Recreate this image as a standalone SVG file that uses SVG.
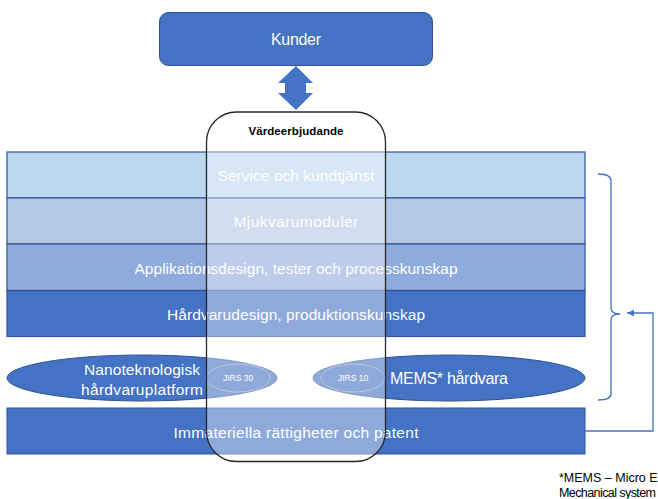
<svg xmlns="http://www.w3.org/2000/svg" width="658" height="499" viewBox="0 0 658 499">
<defs>
<style>
.lbl{font-family:"Liberation Sans",Arial,sans-serif;fill:#ffffff;text-anchor:middle;dominant-baseline:central}
.layer{stroke:#2F5597;stroke-width:1.2}
.ell{fill:#4472C4;stroke:#2F528F;stroke-width:1}
.jirs{fill:#4472C4;stroke:#8EA2C8;stroke-width:1}
.conn{fill:none;stroke:#4472C4;stroke-width:1.3}
.note{font-family:"Liberation Sans",Arial,sans-serif;font-size:12.5px;fill:#000000;dominant-baseline:central}
</style>
<marker id="ah" markerWidth="8" markerHeight="8" refX="7" refY="4" orient="auto" markerUnits="userSpaceOnUse">
<path d="M0,0.8 L7,4 L0,7.2 Z" fill="#4472C4"/>
</marker>
</defs>
<rect width="658" height="499" fill="#ffffff"/>

<g id="kunder">
<rect x="159.5" y="12.5" width="273" height="53" rx="9" fill="#4472C4" stroke="#2F528F" stroke-width="1"/>
<text class="lbl" x="296" y="39" font-size="16" textLength="50">Kunder</text>
</g>

<g id="dubbelpil">
<polygon points="296,66 313,83 306,83 306,93 313,93 296,110 278,93 285,93 285,83 278,83" fill="#4472C4"/>
</g>

<g id="service">
<rect class="layer" x="7" y="152" width="578" height="46" fill="#BDD7EE"/>
<text class="lbl" x="296" y="175.5" font-size="15.5" textLength="157">Service och kundtjänst</text>
</g>
<g id="mjukvara">
<rect class="layer" x="7" y="198" width="578" height="46" fill="#B4C7E7"/>
<text class="lbl" x="296" y="221.5" font-size="15.5" textLength="125">Mjukvarumoduler</text>
</g>
<g id="applikation">
<rect class="layer" x="7" y="244" width="578" height="46.5" fill="#8FAADC"/>
<text class="lbl" x="296" y="268" font-size="15.5" textLength="323">Applikationsdesign, tester och processkunskap</text>
</g>
<g id="hardvarudesign">
<rect class="layer" x="7" y="290.5" width="578" height="46" fill="#4472C4"/>
<text class="lbl" x="296" y="314" font-size="15.5" textLength="258">Hårdvarudesign, produktionskunskap</text>
</g>

<g id="nanoteknologisk">
<ellipse class="ell" cx="142" cy="378" rx="135" ry="23"/>
<text class="lbl" x="142" y="369" font-size="15.5" textLength="116">Nanoteknologisk</text>
<text class="lbl" x="142" y="389" font-size="15.5" textLength="122">hårdvaruplatform</text>
</g>
<g id="jirs30">
<ellipse class="jirs" cx="238" cy="378" rx="32" ry="14"/>
<text class="lbl" x="238" y="378" font-size="8.5">JIRS 30</text>
</g>
<g id="mems">
<ellipse class="ell" cx="449" cy="378" rx="136" ry="23"/>
<text class="lbl" x="449" y="378" font-size="16" textLength="118">MEMS* hårdvara</text>
</g>
<g id="jirs10">
<ellipse class="jirs" cx="353" cy="378" rx="32" ry="14"/>
<text class="lbl" x="353" y="378" font-size="8.5">JIRS 10</text>
</g>

<g id="immateriella">
<rect x="7" y="408" width="578" height="46" fill="#4472C4" stroke="#2F528F" stroke-width="1"/>
<text class="lbl" x="296" y="432.5" font-size="15.5" textLength="245">Immateriella rättigheter och patent</text>
</g>

<g id="vardeerbjudande">
<rect x="206.5" y="112" width="179" height="349.5" rx="30" fill="#ffffff" fill-opacity="0.4" stroke="#262626" stroke-width="1.3"/>
<text x="296" y="131" font-family="Liberation Sans,Arial,sans-serif" font-size="11.5" font-weight="bold" fill="#000000" text-anchor="middle" dominant-baseline="central" textLength="95">Värdeerbjudande</text>
</g>

<g id="connectors">
<path class="conn" d="M598,174 Q611,174 611,181 L611,308 Q611,314 620,314 Q611,314 611,320 L611,394 Q611,400 598,400"/>
<path class="conn" d="M585.5,431 H653 V313 H627" marker-end="url(#ah)"/>
</g>

<g id="fotnot">
<text class="note" x="559" y="478">*MEMS – Micro E</text>
<text class="note" x="559" y="493" textLength="97">Mechanical system</text>
</g>
</svg>
